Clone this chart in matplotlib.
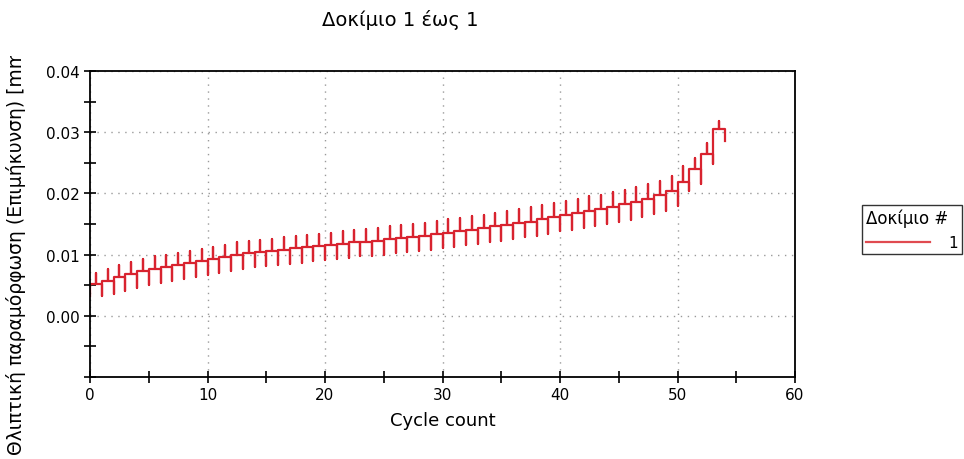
import numpy as np
import matplotlib
matplotlib.use("Agg")
import matplotlib.pyplot as plt
from matplotlib.ticker import MultipleLocator, FixedLocator
from matplotlib.transforms import Bbox, TransformedBbox

# strain values, one entry per cycle
start_val = 0.0033
base = [0.0052, 0.0057, 0.0063, 0.0068, 0.0073, 0.0077, 0.0080, 0.0083, 0.0086, 0.0089,
        0.0093, 0.0096, 0.0100, 0.0103, 0.0104, 0.0106, 0.0108, 0.0110, 0.0112, 0.0114,
        0.0116, 0.0118, 0.0120, 0.0121, 0.0123, 0.0125, 0.0127, 0.0129, 0.0131, 0.0134,
        0.0136, 0.0138, 0.0141, 0.0143, 0.0146, 0.0148, 0.0151, 0.0154, 0.0158, 0.0162,
        0.0165, 0.0168, 0.0171, 0.0174, 0.0178, 0.0182, 0.0186, 0.0191, 0.0197, 0.0204,
        0.0218, 0.0240, 0.0265, 0.0305]
hi = [0.0070, 0.0077, 0.0083, 0.0088, 0.0093, 0.0097, 0.0100, 0.0103, 0.0106, 0.0109,
      0.0113, 0.0116, 0.0120, 0.0123, 0.0124, 0.0126, 0.0128, 0.0130, 0.0132, 0.0134,
      0.0136, 0.0138, 0.0140, 0.0142, 0.0144, 0.0146, 0.0148, 0.0150, 0.0152, 0.0155,
      0.0158, 0.0160, 0.0163, 0.0165, 0.0168, 0.0171, 0.0174, 0.0177, 0.0181, 0.0185,
      0.0188, 0.0191, 0.0195, 0.0198, 0.0202, 0.0206, 0.0210, 0.0215, 0.0221, 0.0228,
      0.0245, 0.0258, 0.0282, 0.0319]
lo = [0.0032, 0.0035, 0.0040, 0.0045, 0.0050, 0.0054, 0.0057, 0.0060, 0.0063, 0.0066,
      0.0070, 0.0073, 0.0077, 0.0080, 0.0081, 0.0083, 0.0085, 0.0087, 0.0089, 0.0091,
      0.0093, 0.0095, 0.0097, 0.0098, 0.0100, 0.0102, 0.0104, 0.0106, 0.0108, 0.0111,
      0.0113, 0.0115, 0.0118, 0.0120, 0.0122, 0.0125, 0.0128, 0.0131, 0.0134, 0.0138,
      0.0141, 0.0144, 0.0147, 0.0150, 0.0154, 0.0157, 0.0161, 0.0166, 0.0172, 0.0180,
      0.0204, 0.0215, 0.0248, 0.0286]

# build the step/spike path: up spike mid-cycle, down spike at cycle end
xs, ys = [0], [start_val]
for k in range(len(base)):
    xs += [k, k + 0.5, k + 0.5, k + 0.5, k + 1, k + 1]
    ys += [base[k], base[k], hi[k], base[k], base[k], lo[k]]
    if k + 1 < len(base):
        xs.append(k + 1)
        ys.append(base[k + 1])

fig = plt.figure(figsize=(9.64, 4.6), dpi=100)
ax = fig.add_axes([90/964, 1-378/460, (795-90)/964, (378-72)/460])

line, = ax.plot(xs, ys, color='#d8232f', lw=1.6, label='1')

ax.set_xlim(0, 60)
ax.set_ylim(-0.01, 0.04)
ax.xaxis.set_major_locator(MultipleLocator(10))
ax.xaxis.set_minor_locator(MultipleLocator(5))
ax.yaxis.set_major_locator(FixedLocator([0, 0.01, 0.02, 0.03, 0.04]))
ax.yaxis.set_minor_locator(FixedLocator([-0.01, -0.005, 0.005, 0.015, 0.025, 0.035]))
ax.set_yticklabels(['0.00', '0.01', '0.02', '0.03', '0.04'])
ax.tick_params(which='both', direction='inout', length=8, width=1.2, labelsize=11)
ax.grid(True, which='major', color='#9a9a9a', linestyle=(0, (1, 4)), lw=1)
for s in ax.spines.values():
    s.set_linewidth(1.3)

ax.set_xlabel('Cycle count', fontsize=13, labelpad=6)

fig.text(400/964, 1-20/460, 'Δοκίμιο 1 έως 1', ha='center', va='center', fontsize=14)

ylab = fig.text(16/964, 1-455/460, 'Θλιπτική παραμόρφωση (Επιμήκυνση) [mm]',
                rotation=90, ha='center', va='bottom', fontsize=13.5)
ylab.set_clip_box(TransformedBbox(Bbox([[0, 0], [1, 1-57/460]]), fig.transFigure))
ylab.set_clip_on(True)

leg = fig.legend(handles=[line], title='Δοκίμιο #', loc='upper left',
                 bbox_to_anchor=(862/964, 1-206/460), fontsize=11, title_fontsize=12,
                 handlelength=4.2, frameon=True, fancybox=False,
                 borderpad=0.25, handletextpad=1.2, borderaxespad=0)
leg._legend_box.align = 'left'
leg.get_frame().set_edgecolor('black')
leg.get_frame().set_linewidth(1)
leg.get_lines()[0].set_color('#e04a50')

fig.savefig('out.png', dpi=100)
